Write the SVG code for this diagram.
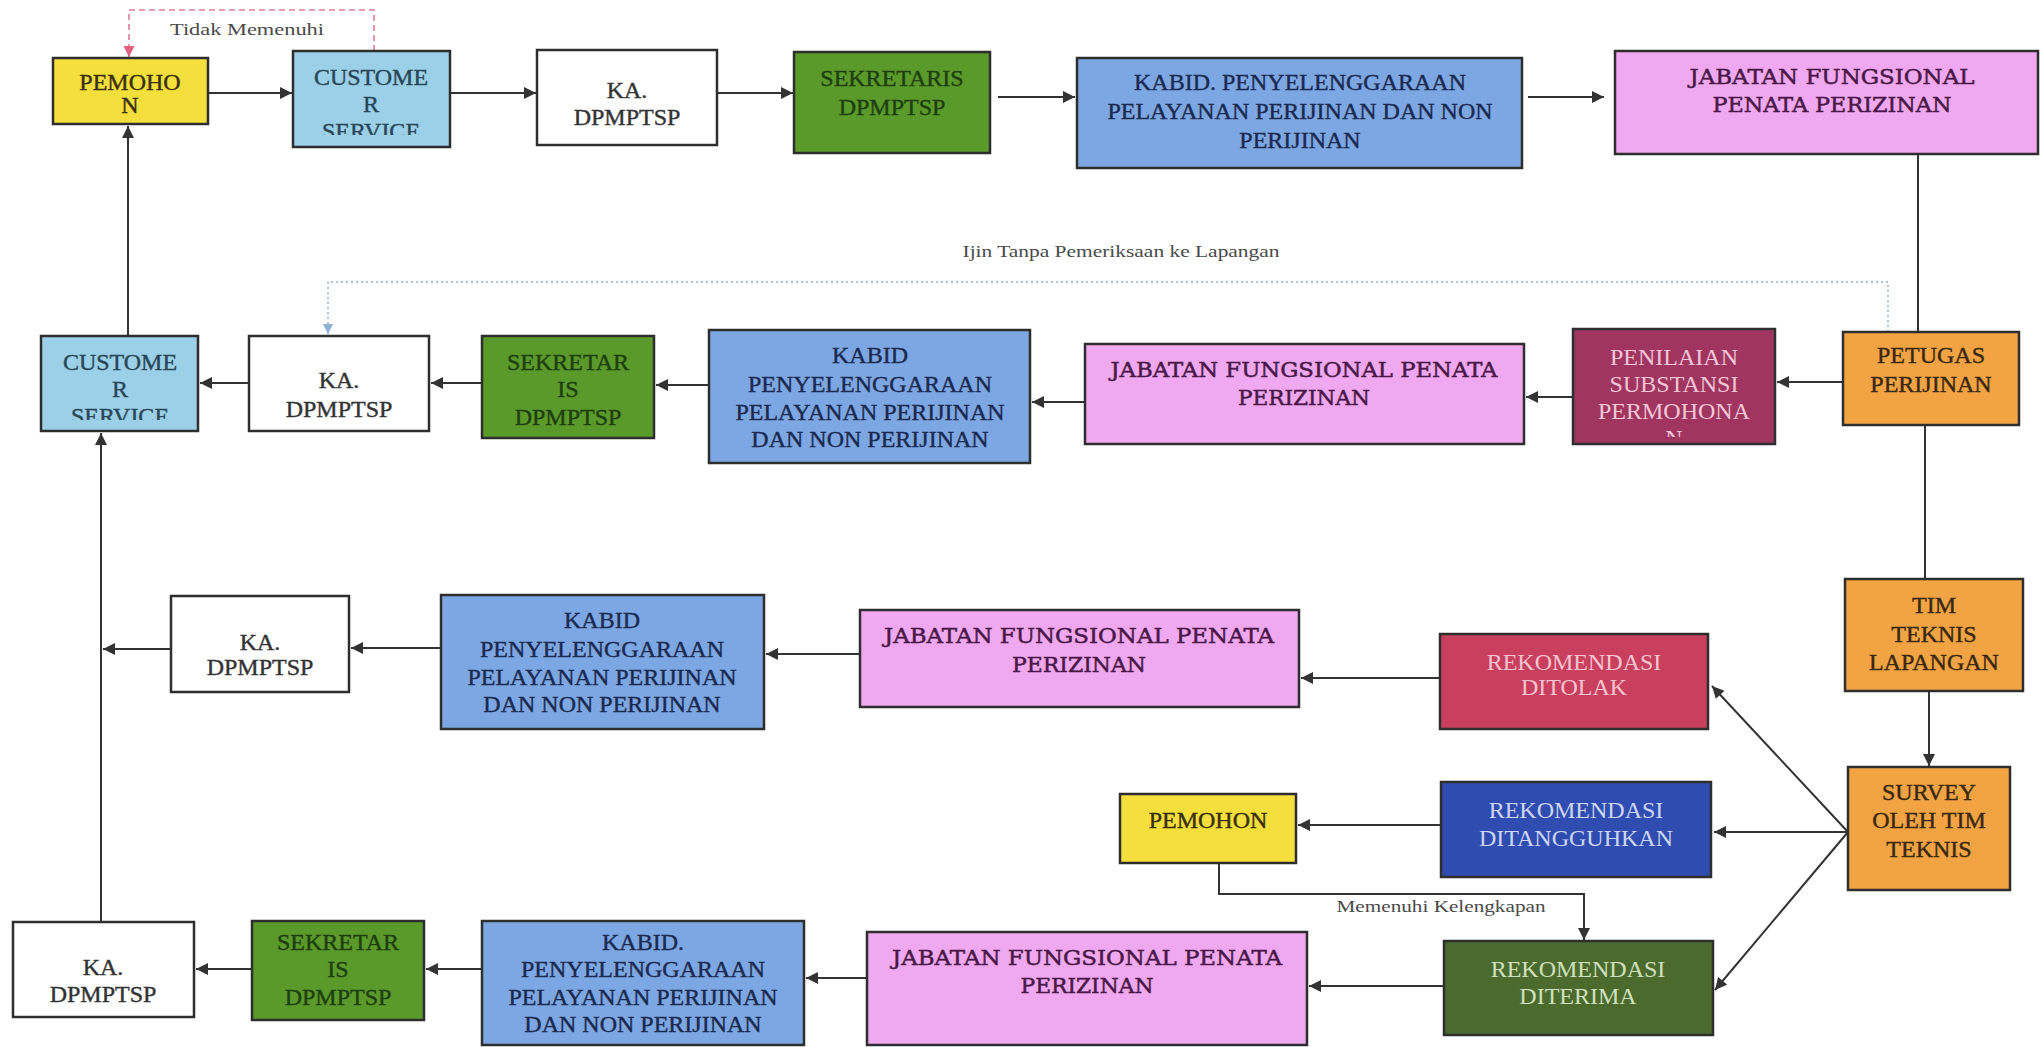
<svg xmlns="http://www.w3.org/2000/svg" width="2040" height="1047" viewBox="0 0 2040 1047">
<style>
.bx{stroke:#2e2e2e;stroke-width:2.5}
.t{font-family:"Liberation Serif","Times New Roman",serif;font-size:24px;text-anchor:middle;stroke-width:0.4}
.j{font-family:"DejaVu Serif","Liberation Serif",serif;font-size:21px;text-anchor:middle;fill:#4a1848;stroke:#4a1848;stroke-width:0.5}
.lbl{font-family:"Liberation Serif","Times New Roman",serif;font-size:17px;fill:#4a4a4a;text-anchor:middle}
.c{fill:none;stroke:#333;stroke-width:2}
.yel{fill:#F4DF3C}.lb{fill:#9CD0E8}.wh{fill:#FFFFFF}.gr{fill:#5A9A2A}.bl{fill:#7DA7E3}.pk{fill:#F0A8F0}
.mr{fill:#A03660}.or{fill:#F2A444}.cr{fill:#C8405E}.db{fill:#2F4DB0}.dg{fill:#4B6B2E}
.ty{fill:#3a3010;stroke:#3a3010}.tc{fill:#2a4658;stroke:#2a4658}.tk{fill:#333;stroke:#333}.tg{fill:#1e4010;stroke:#1e4010}.tb{fill:#1a2a50;stroke:#1a2a50}.tp{fill:#f4c6d6}.to{fill:#3a2810;stroke:#3a2810}
.tr{fill:#f6c4d0}.tl{fill:#cdd5f2}.te{fill:#cfe0bc}
</style>
<defs>
<marker id="ah" viewBox="0 0 10 10" refX="10" refY="5" markerWidth="14" markerHeight="12" markerUnits="userSpaceOnUse" orient="auto"><path d="M0,0 L10,5 L0,10 z" fill="#333"/></marker>
<marker id="ahp" viewBox="0 0 10 10" refX="10" refY="5" markerWidth="13" markerHeight="11" markerUnits="userSpaceOnUse" orient="auto"><path d="M0,0 L10,5 L0,10 z" fill="#e0607f"/></marker>
<marker id="ahb" viewBox="0 0 10 10" refX="10" refY="5" markerWidth="12" markerHeight="10" markerUnits="userSpaceOnUse" orient="auto"><path d="M0,0 L10,5 L0,10 z" fill="#8fb0d8"/></marker>
<clipPath id="clipcs1"><rect x="293" y="51" width="157" height="84"/></clipPath>
<clipPath id="clipcs2"><rect x="41" y="336" width="157" height="84"/></clipPath>
<clipPath id="clippen"><rect x="1573" y="329" width="202" height="108"/></clipPath>
</defs>
<rect width="2040" height="1047" fill="#ffffff"/>

<g id="connectors">
<path class="c" d="M208,93 H292" marker-end="url(#ah)"/>
<path class="c" d="M450,93 H536" marker-end="url(#ah)"/>
<path class="c" d="M717,93 H793" marker-end="url(#ah)"/>
<path class="c" d="M998,97 H1075" marker-end="url(#ah)"/>
<path class="c" d="M1528,97 H1604" marker-end="url(#ah)"/>
<path class="c" d="M1918,154 V332"/>
<path class="c" d="M1843,382 H1777" marker-end="url(#ah)"/>
<path class="c" d="M1573,397 H1526" marker-end="url(#ah)"/>
<path class="c" d="M1085,402 H1032" marker-end="url(#ah)"/>
<path class="c" d="M709,385 H656" marker-end="url(#ah)"/>
<path class="c" d="M482,383 H431" marker-end="url(#ah)"/>
<path class="c" d="M249,383 H200" marker-end="url(#ah)"/>
<path class="c" d="M128,336 V126" marker-end="url(#ah)"/>
<path class="c" d="M1925,425 V579"/>
<path class="c" d="M1929,691 V766" marker-end="url(#ah)"/>
<path class="c" d="M1848,832 L1712,686" marker-end="url(#ah)"/>
<path class="c" d="M1848,832 H1714" marker-end="url(#ah)"/>
<path class="c" d="M1848,832 L1715,990" marker-end="url(#ah)"/>
<path class="c" d="M1441,825 H1298" marker-end="url(#ah)"/>
<path class="c" d="M1219,863 V894 H1584 V940" marker-end="url(#ah)"/>
<path class="c" d="M1440,678 H1301" marker-end="url(#ah)"/>
<path class="c" d="M860,654 H766" marker-end="url(#ah)"/>
<path class="c" d="M441,648 H351" marker-end="url(#ah)"/>
<path class="c" d="M171,649 H103" marker-end="url(#ah)"/>
<path class="c" d="M101,922 V433" marker-end="url(#ah)"/>
<path class="c" d="M1444,986 H1309" marker-end="url(#ah)"/>
<path class="c" d="M867,978 H806" marker-end="url(#ah)"/>
<path class="c" d="M482,969 H426" marker-end="url(#ah)"/>
<path class="c" d="M252,969 H196" marker-end="url(#ah)"/>
<path d="M374,51 V10 H129 V57" fill="none" stroke="#e07b95" stroke-width="1.6" stroke-dasharray="6,4" marker-end="url(#ahp)"/>
<path d="M1888,332 V282 H328 V334" fill="none" stroke="#a9c2de" stroke-width="2" stroke-dasharray="2,3" marker-end="url(#ahb)"/>
<text class="lbl" x="247" y="35" textLength="154" lengthAdjust="spacingAndGlyphs">Tidak Memenuhi</text>
<text class="lbl" x="1121" y="257" textLength="317" lengthAdjust="spacingAndGlyphs">Ijin Tanpa Pemeriksaan ke Lapangan</text>
<text class="lbl" x="1441" y="912" textLength="209" lengthAdjust="spacingAndGlyphs">Memenuhi Kelengkapan</text>
</g>

<g id="pemohon1"><rect class="bx yel" x="53" y="58" width="155" height="66"/>
<text class="t ty" x="130" y="90" font-size="20">PEMOHO</text><text class="t ty" x="130" y="113" font-size="20">N</text></g>
<g id="cs1"><rect class="bx lb" x="293" y="51" width="157" height="96"/>
<g clip-path="url(#clipcs1)"><text class="t tc" x="371" y="85">CUSTOME</text><text class="t tc" x="371" y="112">R</text><text class="t tc" x="371" y="139">SERVICE</text></g></g>
<g id="ka1"><rect class="bx wh" x="537" y="50" width="180" height="95"/>
<text class="t tk" x="627" y="98">KA.</text><text class="t tk" x="627" y="125">DPMPTSP</text></g>
<g id="sek1"><rect class="bx gr" x="794" y="52" width="196" height="101"/>
<text class="t tg" x="892" y="86">SEKRETARIS</text><text class="t tg" x="892" y="115">DPMPTSP</text></g>
<g id="kabid1"><rect class="bx bl" x="1077" y="58" width="445" height="110"/>
<text class="t tb" x="1300" y="90">KABID. PENYELENGGARAAN</text><text class="t tb" x="1300" y="119">PELAYANAN PERIJINAN DAN NON</text><text class="t tb" x="1300" y="148">PERIJINAN</text></g>
<g id="jab1"><rect class="bx pk" x="1615" y="51" width="423" height="103"/>
<text class="j" x="1832" y="84" textLength="285" lengthAdjust="spacingAndGlyphs">JABATAN FUNGSIONAL</text><text class="j" x="1832" y="112" textLength="239" lengthAdjust="spacingAndGlyphs">PENATA PERIZINAN</text></g>

<g id="cs2"><rect class="bx lb" x="41" y="336" width="157" height="95"/>
<g clip-path="url(#clipcs2)"><text class="t tc" x="120" y="370">CUSTOME</text><text class="t tc" x="120" y="397">R</text><text class="t tc" x="120" y="424">SERVICE</text></g></g>
<g id="ka2"><rect class="bx wh" x="249" y="336" width="180" height="95"/>
<text class="t tk" x="339" y="388">KA.</text><text class="t tk" x="339" y="417">DPMPTSP</text></g>
<g id="sek2"><rect class="bx gr" x="482" y="336" width="172" height="102"/>
<text class="t tg" x="568" y="370">SEKRETAR</text><text class="t tg" x="568" y="397">IS</text><text class="t tg" x="568" y="425">DPMPTSP</text></g>
<g id="kabid2"><rect class="bx bl" x="709" y="330" width="321" height="133"/>
<text class="t tb" x="870" y="363">KABID</text><text class="t tb" x="870" y="392">PENYELENGGARAAN</text><text class="t tb" x="870" y="420">PELAYANAN PERIJINAN</text><text class="t tb" x="870" y="447">DAN NON PERIJINAN</text></g>
<g id="jab2"><rect class="bx pk" x="1085" y="344" width="439" height="100"/>
<text class="j" x="1304" y="377" textLength="387" lengthAdjust="spacingAndGlyphs">JABATAN FUNGSIONAL PENATA</text><text class="j" x="1304" y="405" textLength="132" lengthAdjust="spacingAndGlyphs">PERIZINAN</text></g>
<g id="penilaian"><rect class="bx mr" x="1573" y="329" width="202" height="115"/>
<g clip-path="url(#clippen)"><text class="t tp" x="1674" y="365">PENILAIAN</text><text class="t tp" x="1674" y="392">SUBSTANSI</text><text class="t tp" x="1674" y="419">PERMOHONA</text><text class="t tp" x="1674" y="446">N</text></g></g>
<g id="petugas"><rect class="bx or" x="1843" y="332" width="176" height="93"/>
<text class="t to" x="1931" y="363">PETUGAS</text><text class="t to" x="1931" y="392">PERIJINAN</text></g>

<g id="ka3"><rect class="bx wh" x="171" y="596" width="178" height="96"/>
<text class="t tk" x="260" y="650">KA.</text><text class="t tk" x="260" y="675">DPMPTSP</text></g>
<g id="kabid3"><rect class="bx bl" x="441" y="595" width="323" height="134"/>
<text class="t tb" x="602" y="628">KABID</text><text class="t tb" x="602" y="657">PENYELENGGARAAN</text><text class="t tb" x="602" y="685">PELAYANAN PERIJINAN</text><text class="t tb" x="602" y="712">DAN NON PERIJINAN</text></g>
<g id="jab3"><rect class="bx pk" x="860" y="610" width="439" height="97"/>
<text class="j" x="1079" y="643" textLength="390" lengthAdjust="spacingAndGlyphs">JABATAN FUNGSIONAL PENATA</text><text class="j" x="1079" y="672" textLength="134" lengthAdjust="spacingAndGlyphs">PERIZINAN</text></g>
<g id="ditolak"><rect class="bx cr" x="1440" y="634" width="268" height="95"/>
<text class="t tr" x="1574" y="670">REKOMENDASI</text><text class="t tr" x="1574" y="695">DITOLAK</text></g>
<g id="tim"><rect class="bx or" x="1845" y="579" width="178" height="112"/>
<text class="t to" x="1934" y="613">TIM</text><text class="t to" x="1934" y="642">TEKNIS</text><text class="t to" x="1934" y="670">LAPANGAN</text></g>
<g id="survey"><rect class="bx or" x="1848" y="767" width="162" height="123"/>
<text class="t to" x="1929" y="800">SURVEY</text><text class="t to" x="1929" y="828">OLEH TIM</text><text class="t to" x="1929" y="857">TEKNIS</text></g>

<g id="pemohon2"><rect class="bx yel" x="1120" y="794" width="176" height="69"/>
<text class="t ty" x="1208" y="828" font-size="22">PEMOHON</text></g>
<g id="ditangguhkan"><rect class="bx db" x="1441" y="782" width="270" height="95"/>
<text class="t tl" x="1576" y="818">REKOMENDASI</text><text class="t tl" x="1576" y="846">DITANGGUHKAN</text></g>
<g id="diterima"><rect class="bx dg" x="1444" y="941" width="269" height="94"/>
<text class="t te" x="1578" y="977">REKOMENDASI</text><text class="t te" x="1578" y="1004">DITERIMA</text></g>
<g id="ka4"><rect class="bx wh" x="13" y="922" width="181" height="95"/>
<text class="t tk" x="103" y="975">KA.</text><text class="t tk" x="103" y="1002">DPMPTSP</text></g>
<g id="sek4"><rect class="bx gr" x="252" y="921" width="172" height="99"/>
<text class="t tg" x="338" y="950">SEKRETAR</text><text class="t tg" x="338" y="977">IS</text><text class="t tg" x="338" y="1005">DPMPTSP</text></g>
<g id="kabid4"><rect class="bx bl" x="482" y="921" width="322" height="124"/>
<text class="t tb" x="643" y="950">KABID.</text><text class="t tb" x="643" y="977">PENYELENGGARAAN</text><text class="t tb" x="643" y="1005">PELAYANAN PERIJINAN</text><text class="t tb" x="643" y="1032">DAN NON PERIJINAN</text></g>
<g id="jab4"><rect class="bx pk" x="867" y="932" width="440" height="113"/>
<text class="j" x="1087" y="965" textLength="390" lengthAdjust="spacingAndGlyphs">JABATAN FUNGSIONAL PENATA</text><text class="j" x="1087" y="993" textLength="133" lengthAdjust="spacingAndGlyphs">PERIZINAN</text></g>
</svg>
